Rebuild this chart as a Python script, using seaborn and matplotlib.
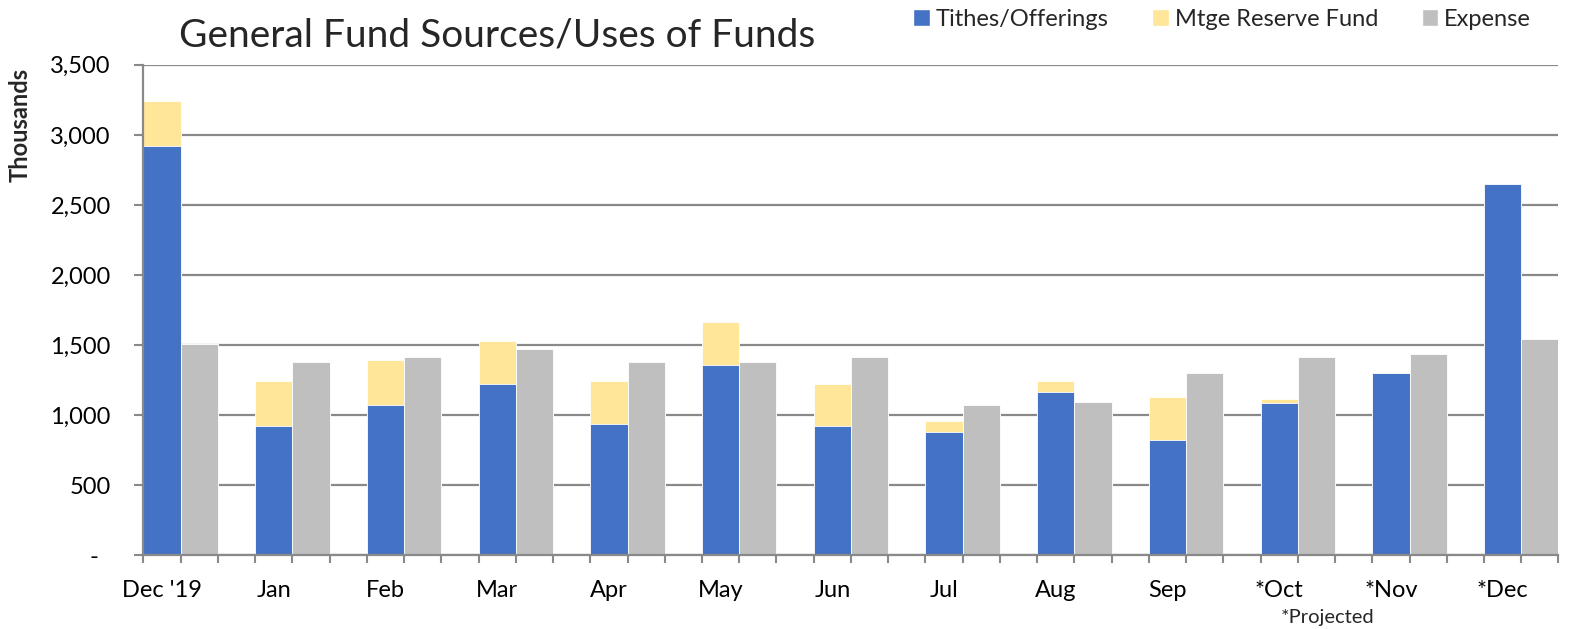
import matplotlib
matplotlib.use("Agg")
import matplotlib.pyplot as plt
import seaborn as sns
import pandas as pd
import numpy as np
from matplotlib.patches import Patch

months = ["Dec '19", "Jan", "Feb", "Mar", "Apr", "May", "Jun", "Jul", "Aug", "Sep", "*Oct", "*Nov", "*Dec"]
tithes = [2919, 922, 1076, 1225, 940, 1359, 922, 883, 1168, 824, 1090, 1302, 2652]
mtge = [323, 323, 321, 305, 305, 304, 303, 76, 77, 307, 24, 0, 0]
expense = [1511, 1378, 1416, 1473, 1378, 1378, 1416, 1073, 1093, 1302, 1416, 1435, 1546]
yticks = [0, 500, 1000, 1500, 2000, 2500, 3000, 3500]

BLUE = "#4472C4"
YELLOW = "#FFE699"
GRAY = "#BFBFBF"
AXC = "#898989"

sns.set_theme(style="white")
plt.rcParams["font.family"] = ["Lato", "DejaVu Sans"]

fig = plt.figure(figsize=(15.75, 6.29), dpi=100)
ax = fig.add_axes([0.0911, 0.1169, 0.9895 - 0.0911, 0.897 - 0.1169])

totals = [t + m for t, m in zip(tithes, mtge)]
df_top = pd.DataFrame({
    "month": months * 2,
    "series": ["Sources"] * len(months) + ["Expense"] * len(months),
    "value": totals + expense,
})
df_base = pd.DataFrame({
    "month": months * 2,
    "series": ["Sources"] * len(months) + ["Expense"] * len(months),
    "value": tithes + expense,
})
order = months
hue_order = ["Sources", "Expense"]
sns.barplot(data=df_top, x="month", y="value", hue="series", order=order,
            hue_order=hue_order, palette={"Sources": YELLOW, "Expense": GRAY},
            width=2/3, gap=0, edgecolor="white", linewidth=0.6, ax=ax,
            legend=False, errorbar=None, saturation=1)
sns.barplot(data=df_base, x="month", y="value", hue="series", order=order,
            hue_order=hue_order, palette={"Sources": BLUE, "Expense": GRAY},
            width=2/3, gap=0, edgecolor="white", linewidth=0.6, ax=ax,
            legend=False, errorbar=None, saturation=1)

n = len(months)
ax.set_xlim(-1/3, n - 1 + 1/3)
ax.set_ylim(0, 3500)
ax.set_yticks(yticks)
ax.set_yticklabels([f"{v:,.0f}" if v else "-  " for v in yticks])
ax.set_xticks([i - 1/6 for i in range(n)])
ax.set_xticklabels(months)
ax.set_xticks([-1/3 + k/3 for k in range(3 * n)], minor=True)
ax.tick_params(axis="x", which="major", length=0, pad=18, labelsize=17, colors="black")
ax.tick_params(axis="x", which="minor", length=6, width=1.5, color=AXC, direction="out", bottom=True)
ax.tick_params(axis="y", which="major", length=6.5, width=1.5, color=AXC, direction="out",
               left=True, pad=17, labelsize=17, labelcolor="black")
ax.set_xlabel("")
ax.set_ylabel("")
ax.yaxis.grid(True, color=AXC, linewidth=1.6)
ax.xaxis.grid(False)
ax.set_axisbelow(True)
for s in ["top", "right"]:
    ax.spines[s].set_visible(False)
for s in ["left", "bottom"]:
    ax.spines[s].set_color(AXC)
    ax.spines[s].set_linewidth(1.6)

fig.text(20 / 1575, 1 - 125 / 629, "Thousands", rotation=90, fontsize=17,
         fontweight="bold", ha="center", va="center")
fig.text(179 / 1575, 1 - 46 / 629, "General Fund Sources/Uses of Funds",
         fontsize=28, ha="left", va="baseline")
fig.text(1328 / 1575, 1 - 618 / 629, "*Projected", fontsize=14.5, ha="center", va="center")

handles = [Patch(facecolor=BLUE), Patch(facecolor=YELLOW), Patch(facecolor=GRAY)]
fig.legend(handles, ["Tithes/Offerings", "Mtge Reserve Fund", "Expense"],
           loc="center right", bbox_to_anchor=(1531 / 1575, 1 - 19 / 629), ncol=3,
           frameon=False, fontsize=17, handlelength=0.7, handleheight=0.7,
           handletextpad=0.25, columnspacing=1.85, borderaxespad=0, borderpad=0)

fig.savefig("out.png", dpi=100)
